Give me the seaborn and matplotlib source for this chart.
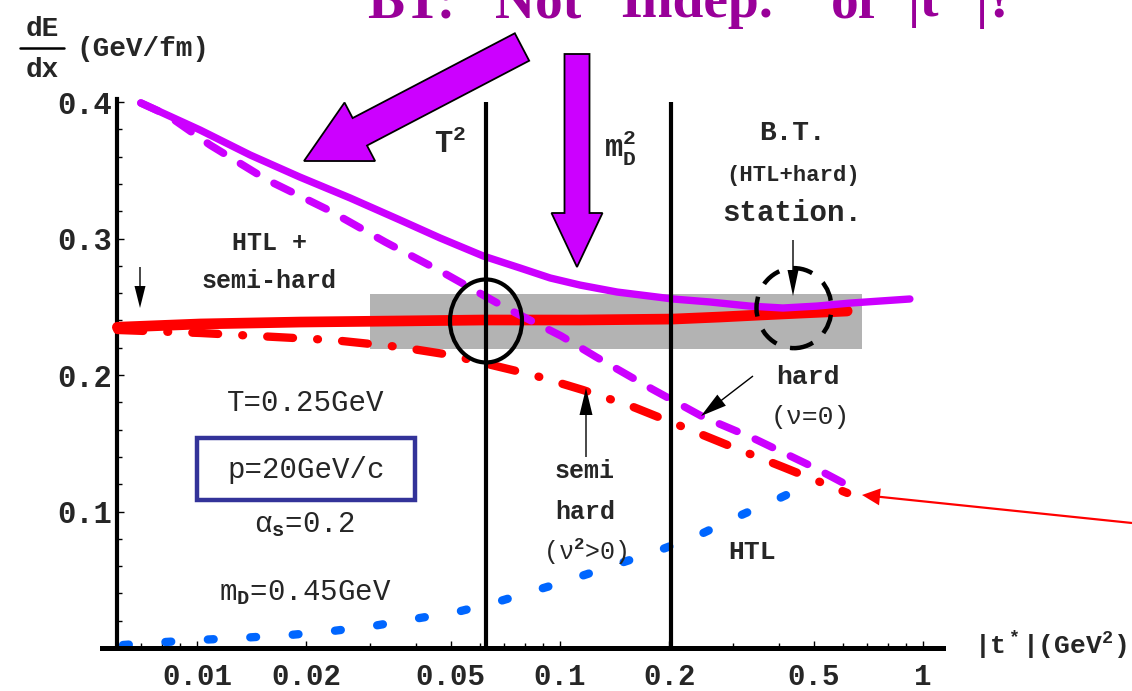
import numpy as np
import pandas as pd
import matplotlib
matplotlib.use("Agg")
import matplotlib.pyplot as plt
from matplotlib import ticker
from matplotlib.lines import Line2D
from matplotlib.patches import FancyArrow, Ellipse, Rectangle
from matplotlib.transforms import IdentityTransform
import seaborn as sns

sns.set_theme(style="white")
plt.rcParams['font.family'] = ['Liberation Mono', 'DejaVu Sans']
plt.rcParams['font.weight'] = 'bold'
plt.rcParams['mathtext.fontset'] = 'custom'
plt.rcParams['mathtext.rm'] = 'Liberation Mono:bold'
plt.rcParams['mathtext.it'] = 'Liberation Mono:bold'
plt.rcParams['mathtext.bf'] = 'Liberation Mono:bold'

# -- values: |t*| (GeV^2) vs dE/dx (GeV/fm) -- #
bt_t = [0.0070, 0.01019, 0.0140, 0.0192, 0.0264, 0.0362, 0.0467, 0.0614, 0.0776, 0.0939,
        0.1135, 0.1436, 0.2046, 0.2589, 0.333, 0.411, 0.510, 0.629, 0.920]
bt_de = [0.3993, 0.3795, 0.3612, 0.345, 0.3297, 0.3136, 0.3004, 0.2872, 0.2784, 0.2711,
         0.2659, 0.2608, 0.2557, 0.2535, 0.2505, 0.2491, 0.2505, 0.2527, 0.2557]

hard_t = [0.0070, 0.00827, 0.01086, 0.0156, 0.0230, 0.0330, 0.0473, 0.0710, 0.1007,
          0.1257, 0.1793, 0.248, 0.340, 0.498, 0.618]
hard_de = [0.3993, 0.3905, 0.3685, 0.3429, 0.3209, 0.2974, 0.2755, 0.2491, 0.2286,
           0.2132, 0.1897, 0.1692, 0.1538, 0.1326, 0.1194]

soft_t = [0.00603, 0.0102, 0.0192, 0.0362, 0.0614, 0.1135, 0.2046, 0.2765, 0.3579,
          0.4624, 0.618]
soft_de = [0.2350, 0.2374, 0.2388, 0.2396, 0.2403, 0.2403, 0.2410, 0.2425, 0.2440,
           0.2454, 0.2469]

semi_t = [0.00603, 0.0102, 0.0166, 0.0237, 0.0362, 0.0498, 0.0614, 0.0843, 0.1157,
          0.159, 0.218, 0.300, 0.411, 0.618]
semi_de = [0.2330, 0.2308, 0.2278, 0.2256, 0.2205, 0.2147, 0.2088, 0.2000, 0.1890,
           0.1766, 0.1620, 0.1470, 0.1326, 0.1136]

htl_t = [0.00625, 0.00817, 0.01066, 0.0140, 0.0183, 0.0237, 0.0305, 0.0394, 0.052,
         0.067, 0.100, 0.146, 0.1886, 0.238, 0.307, 0.404, 0.514]
htl_de = [0.0022, 0.0044, 0.0062, 0.0078, 0.0097, 0.0125, 0.0161, 0.0212, 0.0264,
          0.0337, 0.0476, 0.062, 0.0718, 0.082, 0.096, 0.110, 0.123]

T2 = 0.0625      # T^2
MD2 = 0.2025     # m_D^2
band_t = [0.03, 0.68]
band_de = [0.219, 0.259]

xtick_vals = [0.01, 0.02, 0.05, 0.1, 0.2, 0.5, 1]
xtick_labels = ['0.01', '0.02', '0.05', '0.1', '0.2', '0.5', '1']
ytick_vals = [0.1, 0.2, 0.3, 0.4]
ytick_labels = ['0.1', '0.2', '0.3', '0.4']

title_words = ["BT:", "Not", "Indep.", "of", "|t$^*$", "|?"]

PURPLE = "#CC00FF"
RED = "#FF0000"
BLUE = "#0066FF"

W, H = 1132, 691


def fx(x):
    return x / W


def fy(y):
    return 1 - y / H


fig = plt.figure(figsize=(W / 100, H / 100), dpi=100)
ax = fig.add_axes([fx(102), fy(648), (943 - 102) / W, (648 - 99.3) / H])
ax.set_xscale('log')


def draw(t, de, **kw):
    df = pd.DataFrame({"t": t, "dEdx": de})
    sns.lineplot(data=df, x="t", y="dEdx", ax=ax, sort=False, estimator=None,
                 legend=False, **kw)


ax.fill_between(band_t, band_de[0], band_de[1], color="#B3B3B3", lw=0, zorder=1)

draw(htl_t, htl_de, color=BLUE, lw=6, linestyle=(0, (0.7, 4.4)),
     dash_capstyle='round', zorder=2)
draw(semi_t, semi_de, color=RED, lw=6, linestyle=(0, (3.1, 2.9, 0.1, 2.9)),
     dash_capstyle='round', zorder=3)
draw(soft_t, soft_de, color=RED, lw=7.7, solid_capstyle='round', zorder=4)
draw(hard_t, hard_de, color=PURPLE, lw=5.5, linestyle=(0, (2.5, 2.6)),
     dash_capstyle='round', zorder=5)
draw(bt_t, bt_de, color=PURPLE, lw=5.3, solid_capstyle='round', zorder=6)

ax.vlines([T2, MD2], 0, 0.4, color='black', lw=3, zorder=7)

# Axis limits
ax.set_xlim(0.00547, 1.135)
ax.set_ylim(0, 0.402)
ax.set_xlabel('')
ax.set_ylabel('')

ax.spines.right.set_visible(False)
ax.spines.top.set_visible(False)
ax.spines.left.set_position(('data', 0.00603))
ax.spines.left.set_linewidth(3)
ax.spines.bottom.set_linewidth(3.6)
ax.spines.left.set_color('black')
ax.spines.bottom.set_color('black')
ax.patch.set_alpha(0)

ax.xaxis.set_major_locator(ticker.FixedLocator(xtick_vals))
ax.xaxis.set_minor_locator(ticker.LogLocator(base=10, subs=np.arange(2, 10)))
ax.xaxis.set_minor_formatter(ticker.NullFormatter())
ax.set_xticklabels(xtick_labels)
ax.yaxis.set_major_locator(ticker.FixedLocator(ytick_vals))
ax.yaxis.set_minor_locator(ticker.MultipleLocator(0.02))
ax.set_yticklabels(ytick_labels)
ax.tick_params(axis='both', which='both', direction='in', color='black',
               bottom=True, left=True, width=1)
ax.tick_params(axis='both', which='major', length=5)
ax.tick_params(axis='both', which='minor', length=3.5)
ax.tick_params(axis='x', labelsize=21, pad=11)
ax.tick_params(axis='y', labelsize=22, pad=4)
for lab in ax.get_xticklabels() + ax.get_yticklabels():
    lab.set_fontweight('bold')

# -- circles marking the two regions -- #
c1 = ax.transData.transform((T2, 0.2396))
c2 = ax.transData.transform((0.441, 0.2490))
fig.add_artist(Ellipse(c1, 72, 83, transform=IdentityTransform(), fill=False,
                       ec='black', lw=3, zorder=10))
fig.add_artist(Ellipse(c2, 75, 80, transform=IdentityTransform(), fill=False,
                       ec='black', lw=3.2, linestyle=(0, (4.5, 3.2)), zorder=10))


def arrow(x0, y0, x1, y1, width, hw, hl, fc, ec=None, lw=0):
    a = FancyArrow(x0, H - y0, x1 - x0, y0 - y1, width=width, head_width=hw,
                   head_length=hl, length_includes_head=True,
                   transform=IdentityTransform(), fc=fc,
                   ec=ec if ec else fc, lw=lw, zorder=11)
    fig.add_artist(a)


# big purple arrows
arrow(522, 47, 304, 161, 31, 66, 63, PURPLE, 'black', 1.3)
arrow(577, 54, 577, 267, 25, 51, 54, PURPLE, 'black', 1.3)
# thin pointers
arrow(140, 267, 140, 308, 1.4, 11, 22, 'black')
arrow(586, 457, 586, 388, 1.4, 13, 27, 'black')
arrow(753, 376, 701, 416, 1.4, 14, 26, 'black')
arrow(793, 240, 793, 296, 1.4, 11, 26, 'black')
arrow(1132, 523, 862, 495, 2.2, 17, 18, RED)

# -- texts -- #
# headline, cut at the top edge as in the slide
for word, xpos in zip(title_words, [367, 495, 620, 831, 907, 976]):
    fig.text(fx(xpos), fy(17), word, ha='left', va='baseline', fontsize=40,
             family='Liberation Serif', weight='bold', color='#990099')

fig.text(fx(42), fy(29), "dE", ha='center', va='center', fontsize=20)
fig.text(fx(42), fy(70), "dx", ha='center', va='center', fontsize=20)
fig.add_artist(Line2D([fx(20), fx(64)], [fy(48), fy(48)], color='black', lw=1.8))
fig.text(fx(143), fy(49), "(GeV/fm)", ha='center', va='center', fontsize=20)
fig.text(fx(1050), fy(645), "|t$^*$|(GeV$^2$)", ha='center', va='center', fontsize=19)

fig.text(fx(450), fy(145), "T$^2$", ha='center', va='center', fontsize=22)
fig.text(fx(620), fy(148), "m$_\\mathrm{D}^2$", ha='center', va='center', fontsize=22)
fig.text(fx(792), fy(133), "B.T.", ha='center', va='center', fontsize=20)
fig.text(fx(793), fy(175), "(HTL+hard)", ha='center', va='center', fontsize=16)
fig.text(fx(792), fy(213), "station.", ha='center', va='center', fontsize=21)

fig.text(fx(270), fy(243), "HTL +", ha='center', va='center', fontsize=18)
fig.text(fx(269), fy(281), "semi-hard", ha='center', va='center', fontsize=18)
fig.text(fx(306), fy(403), "T=0.25GeV", ha='center', va='center', fontsize=21,
         weight='normal')
fig.text(fx(306), fy(470), "p=20GeV/c", ha='center', va='center', fontsize=21,
         weight='normal')
fig.add_artist(Rectangle((fx(197), fy(500)), fx(415) - fx(197), fy(438) - fy(500),
                         fill=False, ec='#333399', lw=3.2, zorder=12))
fig.text(fx(304), fy(525), "α$_\\mathrm{s}$=0.2", ha='center', va='center',
         fontsize=21, weight='normal')
fig.text(fx(305), fy(593), "m$_\\mathrm{D}$=0.45GeV", ha='center', va='center',
         fontsize=21, weight='normal')

fig.text(fx(585), fy(471), "semi", ha='center', va='center', fontsize=18)
fig.text(fx(585), fy(512), "hard", ha='center', va='center', fontsize=18)
fig.text(fx(585), fy(552), "(ν$^2$>0)", ha='center', va='center', fontsize=18,
         weight='normal')
fig.text(fx(808), fy(377), "hard", ha='center', va='center', fontsize=19)
fig.text(fx(810), fy(417), "(ν=0)", ha='center', va='center', fontsize=19,
         weight='normal')
fig.text(fx(752), fy(552), "HTL", ha='center', va='center', fontsize=19)

fig.savefig("out.png", dpi=100)
plt.close()
